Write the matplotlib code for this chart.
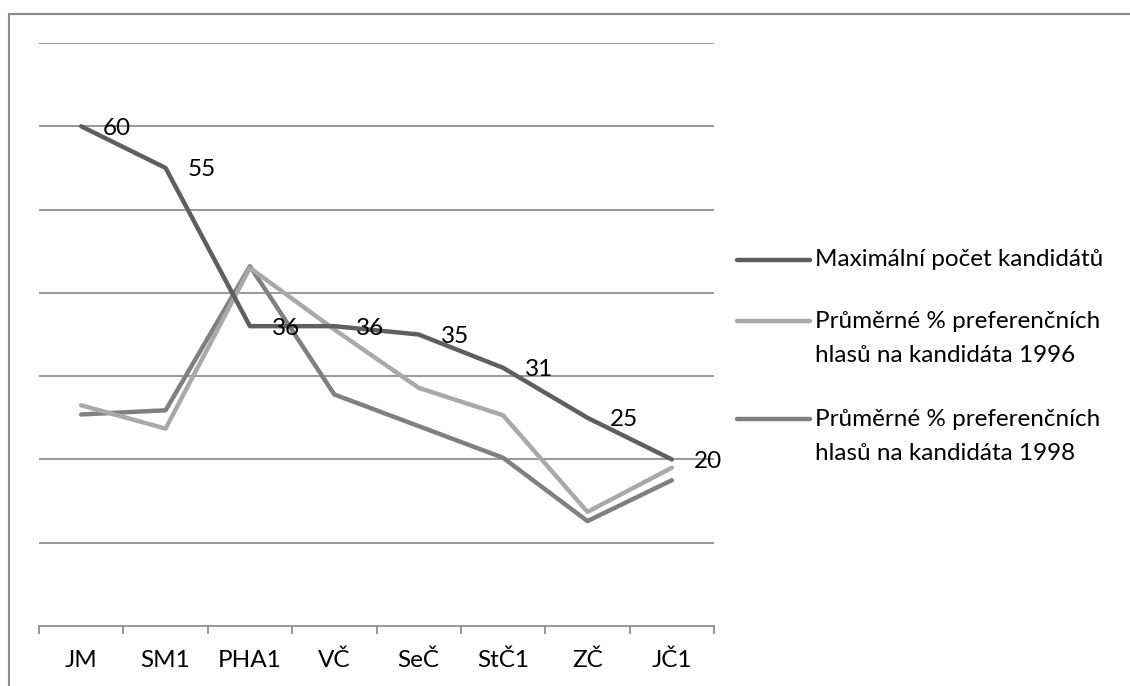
import matplotlib.pyplot as plt
from matplotlib.lines import Line2D
from matplotlib.patches import Rectangle

plt.rcParams['font.family'] = ['Lato', 'DejaVu Sans']

regions = ['JM', 'SM1', 'PHA1', 'VČ', 'SeČ', 'StČ1', 'ZČ', 'JČ1']
max_cand = [60, 55, 36, 36, 35, 31, 25, 20]
pref_1996 = [26.5, 23.7, 43.0, 35.6, 28.6, 25.3, 13.7, 19.0]
pref_1998 = [25.4, 25.9, 43.2, 27.8, 24.0, 20.2, 12.6, 17.5]

series = [
    (['Maximální počet kandidátů'], max_cand, '#5f5f5f'),
    (['Průměrné % preferenčních', 'hlasů na kandidáta 1996'], pref_1996, '#a9a9a9'),
    (['Průměrné % preferenčních', 'hlasů na kandidáta 1998'], pref_1998, '#808080'),
]

W, H = 1130, 686
FS = 17.5
fig = plt.figure(figsize=(W / 100, H / 100), dpi=100)
ax = fig.add_axes([39 / W, 1 - 626 / H, (714 - 39) / W, (626 - 43) / H])

# outer chart frame (runs off the right and bottom edges)
fig.add_artist(Rectangle((8.5 / W, -0.1), 1.2, 1 - 13.5 / H + 0.1,
                         transform=fig.transFigure, fill=False,
                         edgecolor='#8a8a8a', lw=1.5))

x = list(range(len(regions)))
for name, vals, col in series[::-1]:
    ax.plot(x, vals, color=col, lw=3.2, solid_capstyle='round', zorder=3)

for xi, v in zip(x, max_cand):
    ax.annotate(str(v), (xi, v), xytext=(22, -2), textcoords='offset pixels',
                va='center', ha='left', fontsize=FS, zorder=4)

ax.set_xlim(-0.5, len(regions) - 0.5)
ax.set_ylim(0, 70)
for g in range(10, 71, 10):
    ax.axhline(g, color='#888888', lw=1.2, zorder=1)

for s in ['top', 'right', 'left']:
    ax.spines[s].set_visible(False)
ax.spines['bottom'].set_color('#888888')
ax.spines['bottom'].set_linewidth(1.2)
ax.set_yticks([])
ax.set_xticks([i - 0.5 for i in range(len(regions) + 1)])
ax.set_xticklabels([])
ax.tick_params(axis='x', length=6, color='#888888', width=1.2)
ax.set_xticks(x, minor=True)
ax.set_xticklabels(regions, minor=True, fontsize=FS)
ax.tick_params(axis='x', which='minor', length=0, pad=17)

# legend drawn on the figure
legend_y = [260, 321, 419]
for (lines, vals, col), ly in zip(series, legend_y):
    yf = 1 - ly / H
    fig.add_artist(Line2D([737 / W, 810 / W], [yf, yf], color=col, lw=3.2,
                          solid_capstyle='round', transform=fig.transFigure))
    for k, txt in enumerate(lines):
        fig.text(815 / W, 1 - (ly + 34 * k) / H, txt, fontsize=FS,
                 va='center', ha='left')

fig.savefig('out.png', dpi=100)
